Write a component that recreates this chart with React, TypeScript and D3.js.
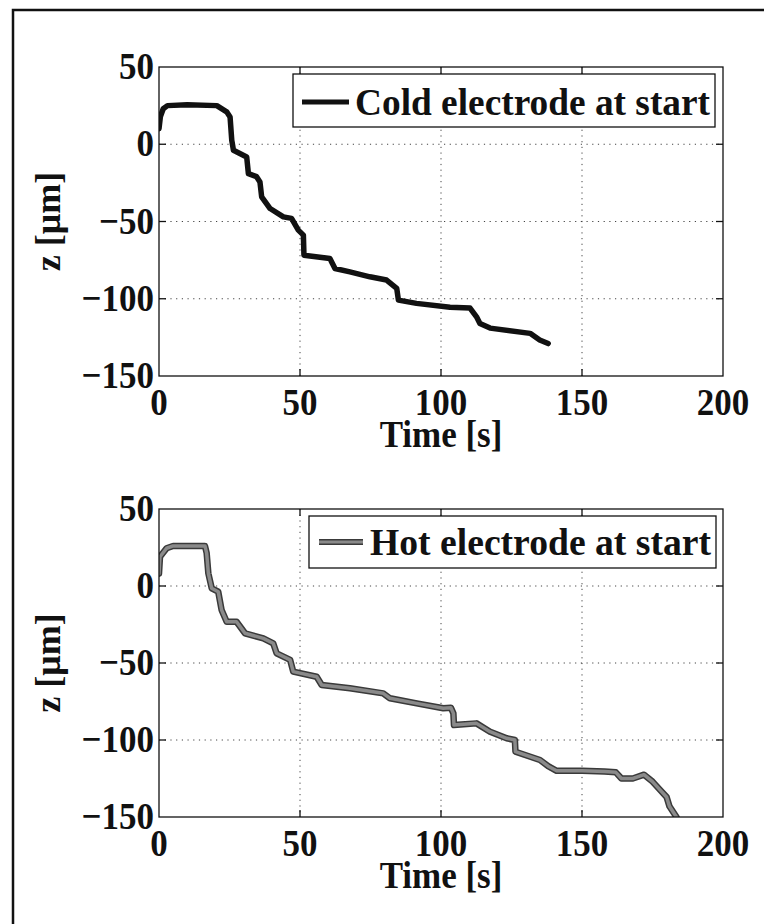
import React from "react";
import * as d3 from "d3";

const coldT = [0, 0.5, 1.5, 3, 10, 20.5, 24, 25.2, 25.8, 26.4, 31.1, 31.7, 34.6, 35.8, 36.4, 39.4, 44.1, 47, 49.4, 51.2, 51.4, 60.6, 62.4, 67.7, 74.8, 80.7, 84.3, 84.9, 91.3, 103.2, 110.3, 112.6, 113.8, 117.4, 131.6, 135, 138];
const coldZ = [10, 18, 23, 25, 25.5, 25, 21, 17.7, 2.6, -3.9, -8.2, -19, -21, -24.4, -34, -41.6, -47, -48, -55.6, -58.8, -71.8, -73.9, -80.4, -82.6, -85.8, -87.9, -93.3, -100.9, -103, -105.5, -106, -111.7, -116, -119, -122.4, -126.7, -129];

const hotT = [0, 0.35, 2.7, 5, 16.3, 16.9, 17.5, 18.7, 21, 22.2, 24, 27.5, 30.5, 37, 40.5, 41.7, 46.5, 47.6, 55.9, 57.7, 67.7, 79.5, 81.9, 91.4, 100.8, 103.5, 104.4, 104.6, 112.6, 117.4, 123.3, 126.2, 126.4, 135.1, 138, 141, 150, 158, 162, 164, 168, 172, 175, 178, 180, 181, 183.5];
const hotZ = [8, 19, 24.5, 26, 26, 21.4, 8.2, -1.5, -3.7, -15.6, -23.2, -23.2, -30.7, -34, -37.2, -43.7, -48, -55.6, -58.9, -64.3, -66.4, -69.7, -72.9, -76.2, -79.4, -79, -82.7, -90.3, -89.2, -94.6, -98.9, -100, -107.6, -113, -117, -120, -120, -120.5, -121, -125, -125, -122.5, -127, -133, -137, -143, -150];

const xTicks = [0, 50, 100, 150, 200];
const yTicks = [50, 0, -50, -100, -150];
const legendLabels = ["Cold electrode at start", "Hot electrode at start"];
const xLabel = "Time [s]";
const yLabel = "z [\u03bcm]";

const FONT = "Liberation Serif, DejaVu Serif, Times New Roman, serif";
const FS = 35;
const SY = 1.08;

type Leg = { x0: number; x1: number; y0: number; y1: number; lx0: number; lx1: number; ly: number; tx: number; ty: number };

type PanelProps = {
  id: string;
  top: number;
  bottom: number;
  t: number[];
  z: number[];
  label: string;
  gray: boolean;
  legend: Leg;
};

function T({ x, y, anchor, children, len }: { x: number; y: number; anchor?: string; children: React.ReactNode; len?: number }) {
  return (
    <g transform={`translate(${x},${y}) scale(1,${SY})`}>
      <text
        x={0}
        y={0}
        textAnchor={anchor || "start"}
        fontFamily={FONT}
        fontWeight="bold"
        fontSize={FS}
        fill="#111"
        {...(len ? { textLength: len, lengthAdjust: "spacingAndGlyphs" } : {})}
      >
        {children}
      </text>
    </g>
  );
}

function Panel({ id, top, bottom, t, z, label, gray, legend }: PanelProps) {
  const left = 159;
  const right = 723;
  const x = d3.scaleLinear().domain([0, 200]).range([left, right]);
  const y = d3.scaleLinear().domain([-150, 50]).range([bottom, top]);
  const pts: [number, number][] = t.map((tv, i) => [tv, z[i]]);
  const line = d3
    .line<[number, number]>()
    .x((d) => x(d[0]))
    .y((d) => y(d[1]));
  const path = line(pts) || "";
  const tickLen = 7;
  const minus = (v: number) => (v < 0 ? "\u2212" + Math.abs(v) : String(v));
  return (
    <g>
      <defs>
        <clipPath id={"clip" + id}>
          <rect x={left} y={top} width={right - left} height={bottom - top} />
        </clipPath>
      </defs>
      {xTicks.slice(1, -1).map((v) => (
        <line key={"gx" + v} x1={x(v)} x2={x(v)} y1={top} y2={bottom} stroke="#444" strokeWidth={1} strokeDasharray="1.2,4.5" />
      ))}
      {yTicks.slice(1, -1).map((v) => (
        <line key={"gy" + v} x1={left} x2={right} y1={y(v)} y2={y(v)} stroke="#444" strokeWidth={1} strokeDasharray="1.2,4.5" />
      ))}
      <g clipPath={`url(#clip${id})`}>
        {gray ? (
          <>
            <path d={path} fill="none" stroke="#3a3a3a" strokeWidth={6.5} strokeLinejoin="round" strokeLinecap="round" />
            <path d={path} fill="none" stroke="#8a8a8a" strokeWidth={3.5} strokeLinejoin="round" strokeLinecap="round" />
          </>
        ) : (
          <path d={path} fill="none" stroke="#111" strokeWidth={5.5} strokeLinejoin="round" strokeLinecap="round" />
        )}
      </g>
      <rect x={left} y={top} width={right - left} height={bottom - top} fill="none" stroke="#111" strokeWidth={1.3} />
      {xTicks.slice(1, -1).map((v) => (
        <g key={"tx" + v}>
          <line x1={x(v)} x2={x(v)} y1={bottom} y2={bottom - tickLen} stroke="#111" strokeWidth={1.3} />
          <line x1={x(v)} x2={x(v)} y1={top} y2={top + tickLen} stroke="#111" strokeWidth={1.3} />
        </g>
      ))}
      {yTicks.slice(1, -1).map((v) => (
        <g key={"ty" + v}>
          <line x1={left} x2={left + tickLen} y1={y(v)} y2={y(v)} stroke="#111" strokeWidth={1.3} />
          <line x1={right} x2={right - tickLen} y1={y(v)} y2={y(v)} stroke="#111" strokeWidth={1.3} />
        </g>
      ))}
      {xTicks.map((v) => (
        <T key={"lx" + v} x={x(v)} y={bottom + 39} anchor="middle">
          {minus(v)}
        </T>
      ))}
      {yTicks.map((v) => (
        <T key={"ly" + v} x={left - 5} y={y(v) + 12} anchor="end">
          {minus(v)}
        </T>
      ))}
      <T x={(left + right) / 2} y={bottom + 71} anchor="middle">
        {xLabel}
      </T>
      <g transform={`translate(60,${(top + bottom) / 2}) rotate(-90)`}>
        <text x={0} y={0} textAnchor="middle" fontFamily={FONT} fontWeight="bold" fontSize={FS + 1} fill="#111">
          {yLabel}
        </text>
      </g>
      <rect x={legend.x0} y={legend.y0} width={legend.x1 - legend.x0} height={legend.y1 - legend.y0} fill="#fff" stroke="#111" strokeWidth={1.3} />
      {gray ? (
        <>
          <line x1={legend.lx0} x2={legend.lx1} y1={legend.ly} y2={legend.ly} stroke="#3a3a3a" strokeWidth={6} />
          <line x1={legend.lx0} x2={legend.lx1} y1={legend.ly} y2={legend.ly} stroke="#8a8a8a" strokeWidth={3} />
        </>
      ) : (
        <line x1={legend.lx0} x2={legend.lx1} y1={legend.ly} y2={legend.ly} stroke="#111" strokeWidth={5} />
      )}
      <T x={legend.tx} y={legend.ty} len={legend.x1 - 5 - legend.tx}>
        {label}
      </T>
    </g>
  );
}

export default function App() {
  return (
    <svg width={764} height={924} style={{ position: "absolute", left: 0, top: 0, background: "#fff" }}>
      <rect x={0} y={0} width={764} height={924} fill="#fff" />
      <path d="M13,924 L13,10 L764,10" fill="none" stroke="#111" strokeWidth={2.5} />
      <Panel
        id="a"
        top={67}
        bottom={376}
        t={coldT}
        z={coldZ}
        label={legendLabels[0]}
        gray={false}
        legend={{ x0: 293, x1: 715, y0: 74, y1: 127, lx0: 302, lx1: 349, ly: 102, tx: 355, ty: 115 }}
      />
      <Panel
        id="b"
        top={509}
        bottom={817}
        t={hotT}
        z={hotZ}
        label={legendLabels[1]}
        gray={true}
        legend={{ x0: 309, x1: 716, y0: 516, y1: 568, lx0: 319, lx1: 363, ly: 542, tx: 370, ty: 555 }}
      />
    </svg>
  );
}
